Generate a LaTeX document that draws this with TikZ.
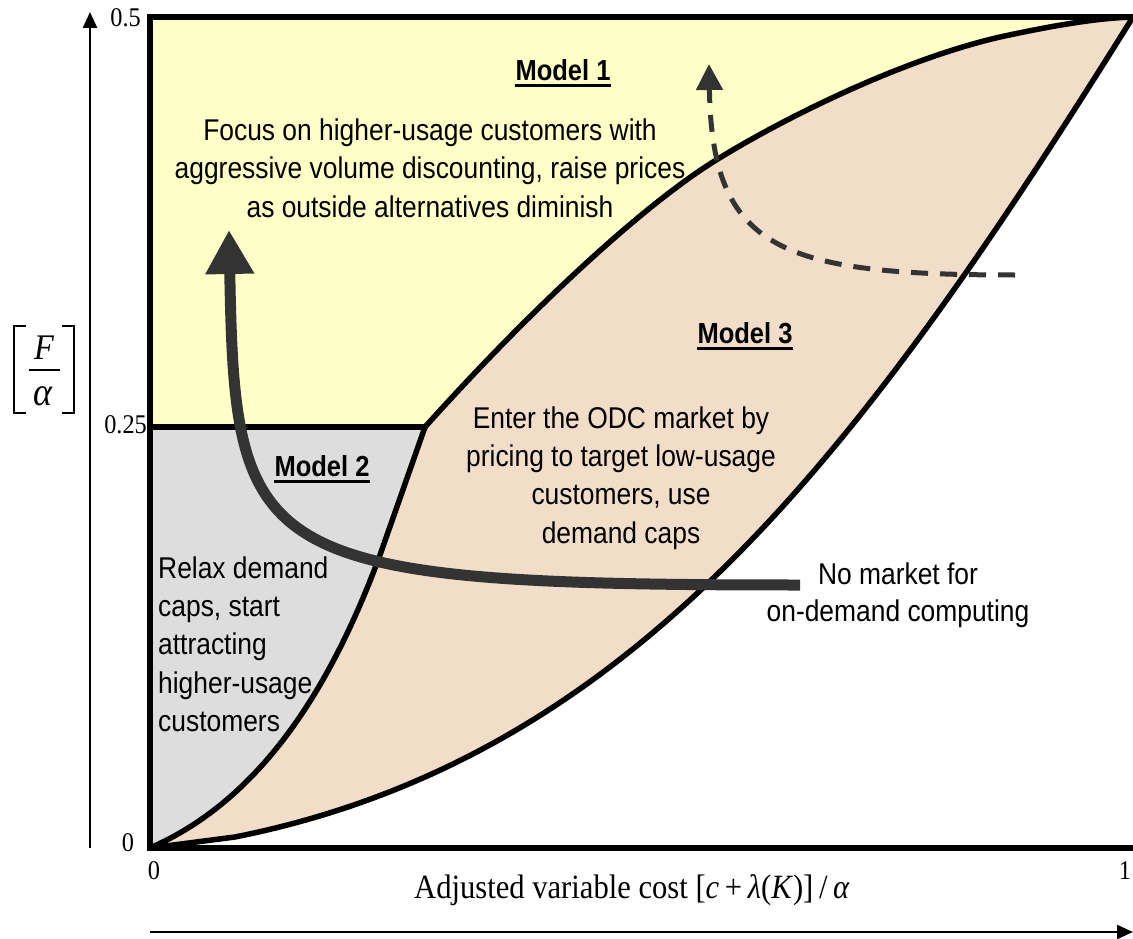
\documentclass[tikz,border=0pt]{standalone}
\usepackage{fontspec}
\usetikzlibrary{arrows.meta}
\newfontfamily\narrow[FakeStretch=0.88]{Liberation Sans}
\newfontfamily\nserif[FakeStretch=0.9]{Liberation Serif}
\definecolor{yel}{RGB}{255,255,200}
\definecolor{gry}{RGB}{221,221,221}
\definecolor{modeltan}{RGB}{241,221,200}
\definecolor{darkarrow}{RGB}{51,51,51}
\tikzset{
  bnd/.style={line width=5.5pt, line join=round},
  frame/.style={line width=6pt, line join=miter},
  body/.style={font=\narrow\fontsize{30}{38.3}\selectfont, align=center, inner sep=0pt},
  mlabel/.style={font=\narrow\bfseries\fontsize{29}{37}\selectfont, inner sep=0pt},
  uline/.style={line width=2.6pt},
  tick/.style={font=\nserif\fontsize{27}{30}\selectfont, inner sep=0pt},
  yfrac/.style={font=\nserif\itshape\fontsize{36}{40}\selectfont, inner sep=0pt},
  brk/.style={line width=1.8pt},
  flow/.style={line width=11pt, darkarrow, -{Triangle[width=46pt,length=44pt]}},
  dflow/.style={line width=5pt, darkarrow, dash pattern=on 17pt off 12pt, -{Triangle[width=26pt,length=26pt]}},
  axis/.style={line width=2.5pt, -{Triangle[width=14pt,length=16pt]}}
}
\begin{document}
\begin{tikzpicture}[x=1pt,y=-1pt]
\useasboundingbox (0,0) rectangle (1133,939);
\fill[white] (0,0) rectangle (1133,939);
% key points
\coordinate (O) at (150,848);
\coordinate (TL) at (150,17);
\coordinate (TR) at (1133,17);
\coordinate (BR) at (1133,848);
\coordinate (Q) at (150,427);
\coordinate (K) at (425,427);
% regions
\fill[modeltan] (O) -- (235,837) .. controls (635,757) and (863,449) .. (TR) -- (TL) -- cycle;
\fill[yel] (TL) -- (TR) .. controls (1100,18) and (1060,24) .. (1000,37)
   .. controls (900,60) and (780,120) .. (713,162)
   .. controls (640,208) and (530,310) .. (K) -- (Q) -- cycle;
\fill[gry] (Q) -- (K) -- (380,555) .. controls (330,690) and (260,800) .. (O) -- cycle;
% boundaries
\draw[bnd] (Q) -- (K);
\draw[bnd] (K) .. controls (530,310) and (640,208) .. (713,162)
   .. controls (780,120) and (900,60) .. (1000,37)
   .. controls (1060,24) and (1100,18) .. (TR);
\draw[bnd] (K) -- (380,555) .. controls (330,690) and (260,800) .. (O);
\draw[bnd] (O) -- (235,837) .. controls (635,757) and (863,449) .. (TR);
\draw[frame] (TR) -- (TL) -- (O) -- (BR);
% axes
\coordinate (yb) at (90,848);
\coordinate (yt) at (90,12);
\coordinate (xl) at (150,932);
\coordinate (xr) at (1133,932);
\draw[axis] (yb) -- (yt);
\draw[axis] (xl) -- (xr);
% tick labels
\node[tick, anchor=east] (t05) at (141,18) {0.5};
\node[tick, anchor=east] (t025) at (147,425) {0.25};
\node[tick] (ty0) at (128,843) {0};
\node[tick] (tx0) at (154,871) {0};
\node[tick] (tx1) at (1125,871) {1};
\node[font=\nserif\fontsize{34}{38}\selectfont, inner sep=0pt] (xlab) at (632,890)
  {Adjusted variable cost [\textit{c}\,+\,\textit{λ}(\textit{K})]\,/\,\textit{α}};
% y label [F/alpha]
\node[yfrac] (yF) at (44,348) {F};
\node[yfrac, font=\nserif\itshape\fontsize{40}{42}\selectfont] (ya) at (43,396) {α};
\draw[brk] (29,370) -- (60,370);
\draw[brk] (26,326) -- (14,326) -- (14,413) -- (26,413);
\draw[brk] (62,326) -- (74,326) -- (74,413) -- (62,413);
% texts
\node[mlabel] (m1) at (563,70) {Model 1};
\draw[uline] ([yshift=-5pt]m1.base west) -- ([yshift=-5pt]m1.base east);
\node[body] (t1) at (430,168) {Focus on higher-usage customers with\\aggressive volume discounting, raise prices\\as outside alternatives diminish};
\node[mlabel] (m3) at (745,333) {Model 3};
\draw[uline] ([yshift=-5pt]m3.base west) -- ([yshift=-5pt]m3.base east);
\node[body] (t3) at (621,478) {Enter the ODC market by\\pricing to target low-usage\\customers, use\\demand caps};
\node[mlabel] (m2) at (322,466) {Model 2};
\draw[uline] ([yshift=-5pt]m2.base west) -- ([yshift=-5pt]m2.base east);
\node[body, align=left, anchor=west] (t2) at (158,644) {Relax demand\\caps, start\\attracting\\higher-usage\\customers};
\node[body, font=\narrow\fontsize{30}{36.5}\selectfont] (nm) at (898,595) {No market for\\on-demand computing};
% arrows
\coordinate (fs) at (800,585);
\coordinate (fe) at (229,230);
\draw[flow] (fs) .. controls (250,585) and (235,560) .. (fe);
\coordinate (ds) at (1015,275);
\coordinate (de) at (709,64);
\draw[dflow] (ds) .. controls (780,275) and (712,250) .. (de);
\end{tikzpicture}
\end{document}
